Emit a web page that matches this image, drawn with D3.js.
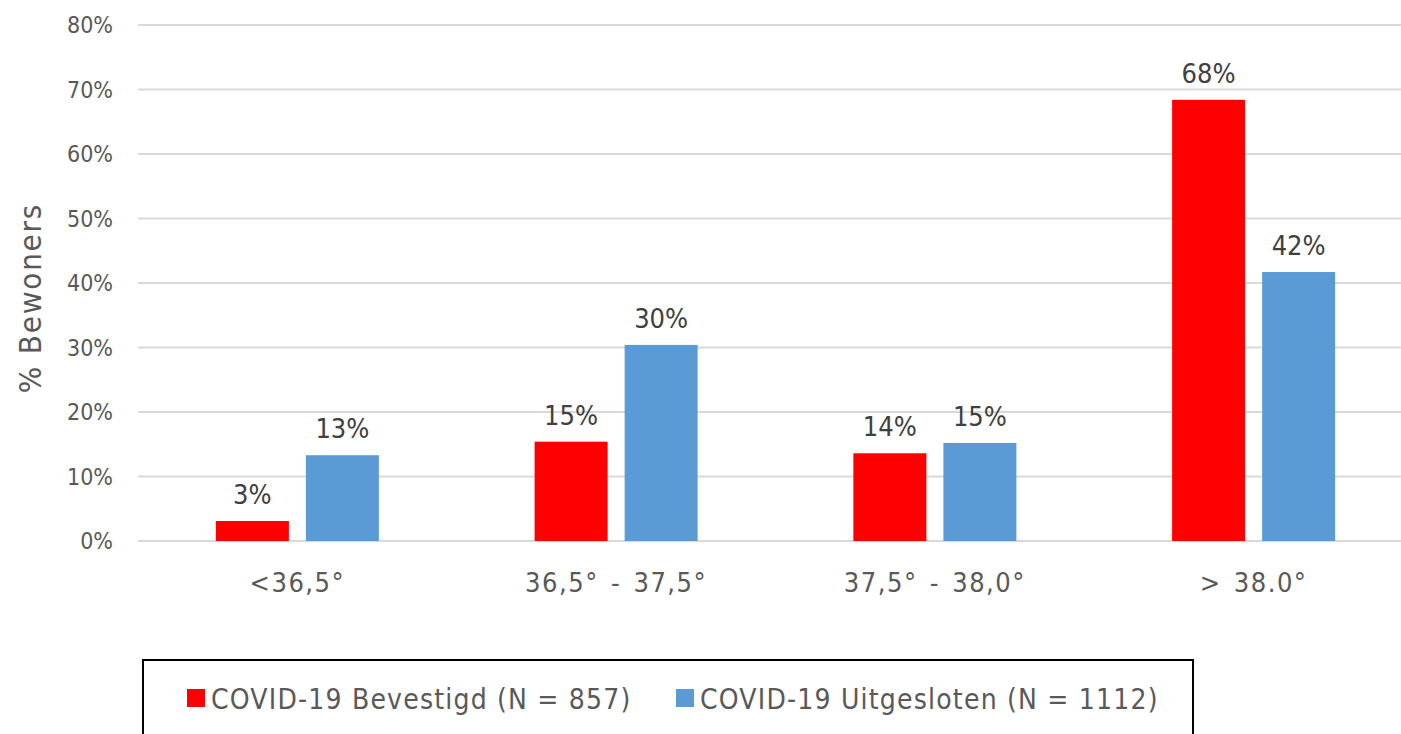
<!DOCTYPE html>
<html>
<head>
<meta charset="utf-8">
<script src="https://cdn.jsdelivr.net/npm/d3@7"></script>
<style>
	body { margin: 0; background: #fff; }
	svg { display: block; font-family: 'DejaVu Sans Condensed', 'DejaVu Sans', sans-serif; }
	.tick-label { fill: #595959; font-size: 23px; }
	.cat-label { fill: #595959; font-size: 27px; letter-spacing: 1.5px; word-spacing: 3px; }
	.value-label { fill: #404040; font-size: 27px; }
	.axis-title { fill: #595959; font-size: 31px; letter-spacing: 1.8px; }
	.legend-text { fill: #595959; font-size: 28px; letter-spacing: 1.2px; }
</style>
</head>
<body>
<svg id="chart-svg" width="1401" height="734"></svg>
<script>
const CATEGORIES = [ '<36,5°', '36,5° - 37,5°', '37,5° - 38,0°', '> 38.0°' ];
const SERIES = [ 'COVID-19 Bevestigd (N = 857)', 'COVID-19 Uitgesloten (N = 1112)' ];
const BEVESTIGD = [ 3.1, 15.4, 13.6, 68.4 ];
const UITGESLOTEN = [ 13.3, 30.4, 15.2, 41.7 ];
const Y_TICKS = [ 0, 10, 20, 30, 40, 50, 60, 70, 80 ];
const COLORS = [ '#ff0000', '#5b9bd5' ];

const PADDING = { top: 25, bottom: 193, left: 138, right: -12 };
const svg = d3.select('#chart-svg');
const svgWidth = 1401;
const svgHeight = 734;

const values = [ BEVESTIGD, UITGESLOTEN ];

const xScale = d3.scaleBand().domain(CATEGORIES).range([ PADDING.left, svgWidth - PADDING.right ]);
const xSub = d3
	.scaleBand()
	.domain(d3.range(SERIES.length))
	.range([ 0, xScale.bandwidth() ])
	.paddingInner(0.189)
	.paddingOuter(0.865);
const yScale = d3.scaleLinear().domain([ 0, 80 ]).range([ svgHeight - PADDING.bottom, PADDING.top ]);

// gridlines
svg
	.append('g')
	.selectAll('line')
	.data(Y_TICKS)
	.enter()
	.append('line')
	.attr('x1', PADDING.left)
	.attr('x2', svgWidth)
	.attr('y1', (d) => yScale(d))
	.attr('y2', (d) => yScale(d))
	.attr('stroke', '#d9d9d9')
	.attr('stroke-width', 2);

// y tick labels
svg
	.append('g')
	.selectAll('text')
	.data(Y_TICKS)
	.enter()
	.append('text')
	.attr('class', 'tick-label')
	.attr('x', PADDING.left - 25)
	.attr('y', (d) => yScale(d))
	.attr('dy', '0.36em')
	.attr('text-anchor', 'end')
	.text((d) => d + '%');

// bars
const groups = svg
	.append('g')
	.selectAll('g')
	.data(CATEGORIES)
	.enter()
	.append('g')
	.attr('transform', (d) => 'translate(' + xScale(d) + ', 0)');

groups
	.selectAll('rect')
	.data((d, i) => values.map((s, j) => ({ series: j, value: s[i] })))
	.enter()
	.append('rect')
	.attr('x', (d) => xSub(d.series))
	.attr('width', xSub.bandwidth())
	.attr('y', (d) => yScale(d.value))
	.attr('height', (d) => yScale(0) - yScale(d.value))
	.attr('fill', (d) => COLORS[d.series]);

groups
	.selectAll('text')
	.data((d, i) => values.map((s, j) => ({ series: j, value: s[i] })))
	.enter()
	.append('text')
	.attr('class', 'value-label')
	.attr('x', (d) => xSub(d.series) + xSub.bandwidth() / 2)
	.attr('y', (d) => yScale(d.value) - 17)
	.attr('text-anchor', 'middle')
	.text((d) => Math.round(d.value) + '%');

// category labels
svg
	.append('g')
	.selectAll('text')
	.data(CATEGORIES)
	.enter()
	.append('text')
	.attr('class', 'cat-label')
	.attr('x', (d) => xScale(d) + xScale.bandwidth() / 2)
	.attr('y', 592)
	.attr('text-anchor', 'middle')
	.text((d) => d);

// y axis title
svg
	.append('text')
	.attr('class', 'axis-title')
	.attr('transform', 'translate(41, 298) rotate(-90)')
	.attr('text-anchor', 'middle')
	.text('% Bewoners');

// legend
const legendG = svg.append('g').attr('id', 'legend');
legendG
	.append('rect')
	.attr('x', 143)
	.attr('y', 660)
	.attr('width', 1050)
	.attr('height', 90)
	.attr('fill', 'none')
	.attr('stroke', '#000')
	.attr('stroke-width', 2);
const legendX = [ 187, 676 ];
SERIES.forEach((s, i) => {
	legendG
		.append('rect')
		.attr('x', legendX[i])
		.attr('y', 689)
		.attr('width', 18)
		.attr('height', 18)
		.attr('fill', COLORS[i]);
	legendG
		.append('text')
		.attr('class', 'legend-text')
		.attr('x', legendX[i] + 24)
		.attr('y', 709)
		.text(s);
});
</script>
</body>
</html>
